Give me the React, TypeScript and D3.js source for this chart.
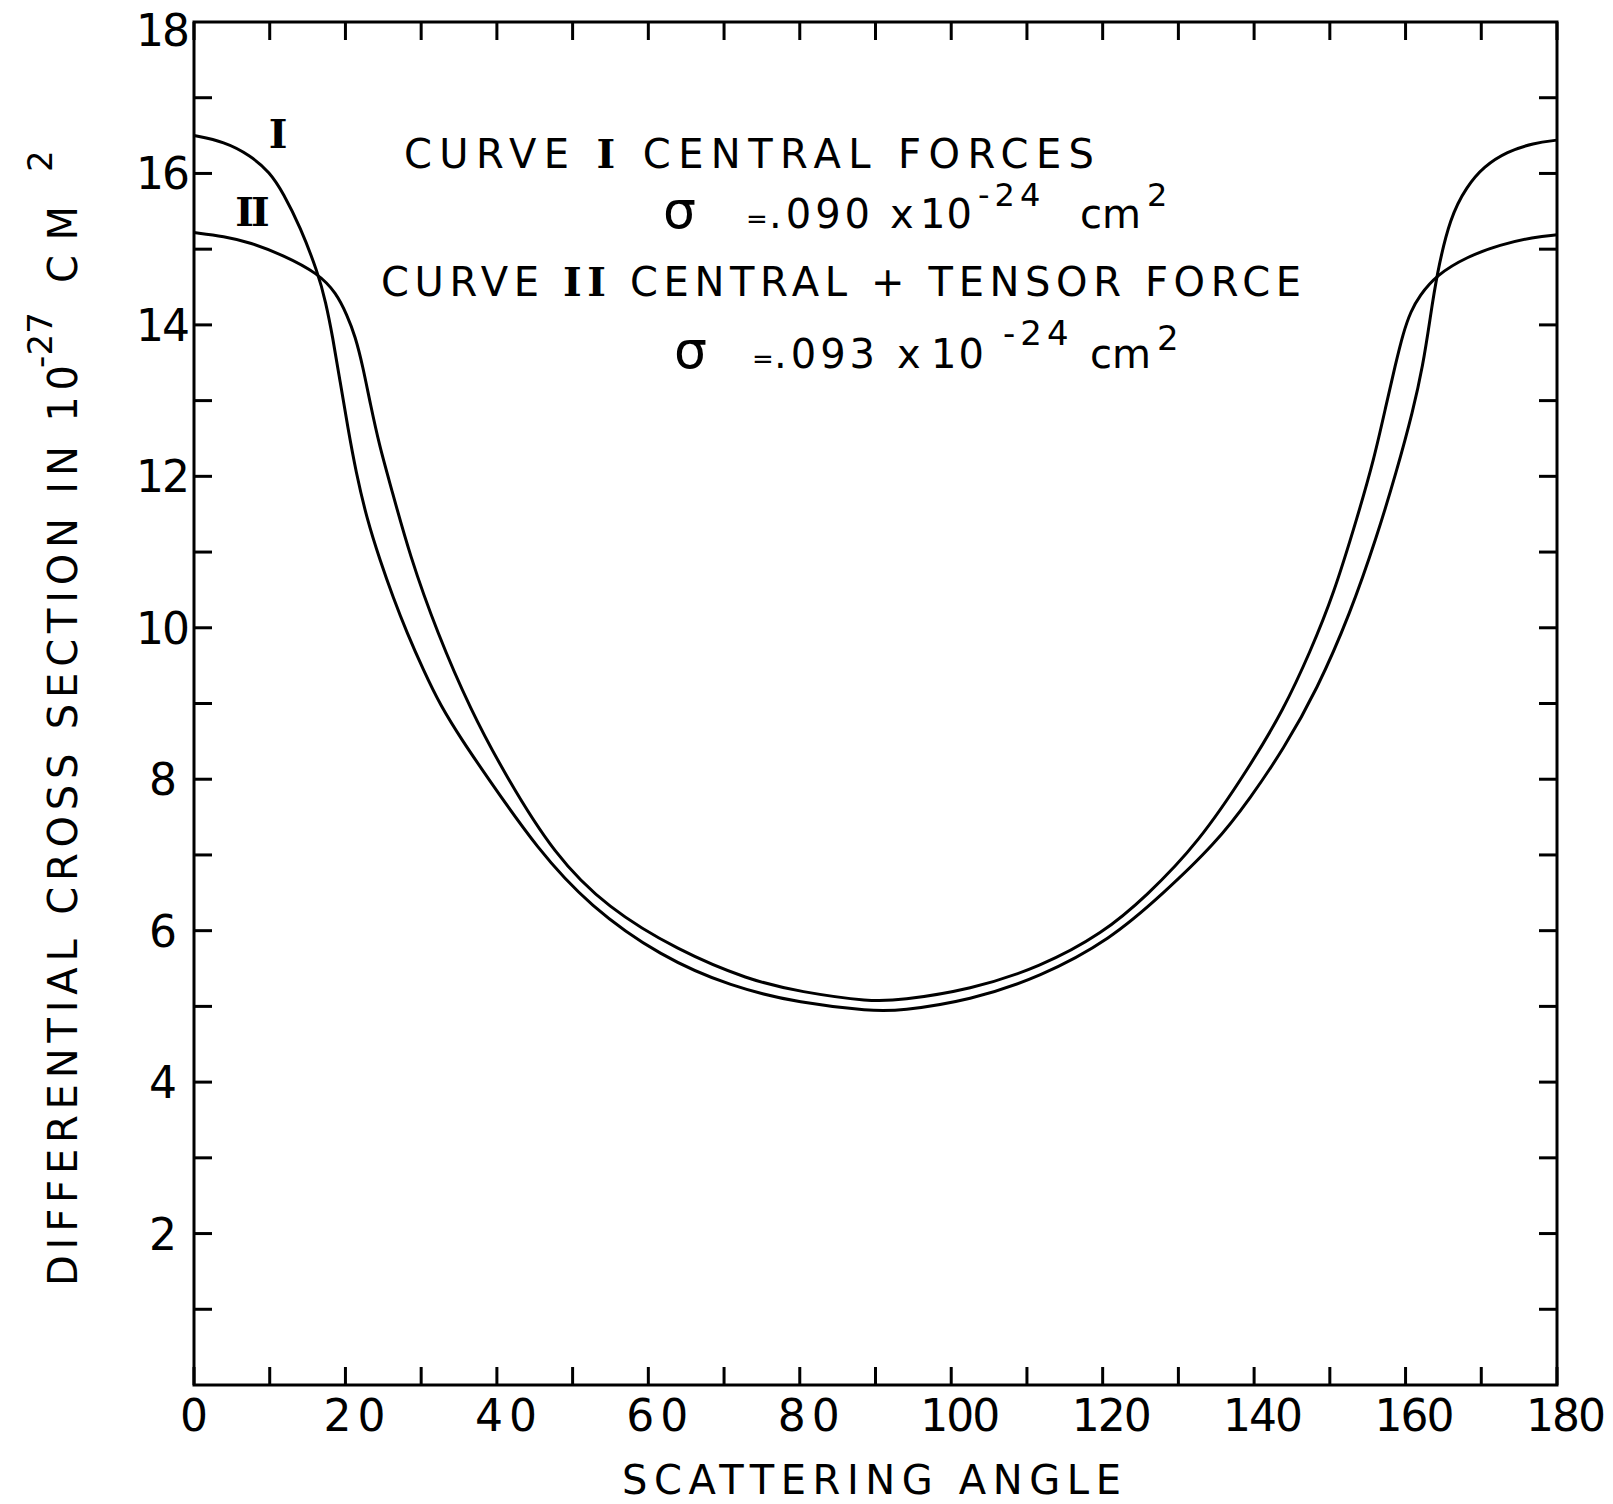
import React from 'react';
import * as d3 from 'd3';

// Curve I: central forces (scattering angle in degrees, cross section in 10^-27 cm^2)
const angleI = [0, 4, 7.4, 10, 11.8, 14, 16.4, 17.4, 18.3, 19.3, 20.3, 21.4, 22.8, 24.6, 26.3, 28.1, 30.3, 32.5, 35.5, 38.5, 45.4, 52.3, 61.6, 70.9, 80.1, 89.4, 93.2, 102.5, 111.8, 121.0, 128.0, 134.9, 139.5, 143.9, 148.3, 152.7, 156.2, 158.8, 161.0, 162.3, 163.2, 164.1, 165.9, 168.1, 170.3, 173.4, 176.9, 180];
const valueI = [16.50, 16.42, 16.24, 16.02, 15.74, 15.30, 14.68, 14.30, 13.85, 13.25, 12.65, 12.05, 11.45, 10.88, 10.40, 9.94, 9.44, 8.98, 8.50, 8.06, 7.07, 6.32, 5.66, 5.26, 5.04, 4.94, 4.94, 5.08, 5.39, 5.88, 6.49, 7.15, 7.75, 8.40, 9.18, 10.19, 11.20, 12.06, 12.87, 13.47, 14.05, 14.66, 15.43, 15.83, 16.09, 16.29, 16.40, 16.44];

// Curve II: central + tensor force
const angleII = [0, 4, 7.4, 11.8, 16.4, 18.8, 20.2, 21.3, 22.3, 23.3, 24.5, 25.9, 28.5, 32.1, 36.5, 41.2, 47.6, 54.6, 63.9, 73.2, 80.1, 89.4, 93.2, 102.5, 111.8, 120.1, 125.7, 132.6, 139.5, 143.9, 147.4, 150.5, 153.6, 155.8, 157.5, 158.6, 159.7, 160.7, 161.8, 164.1, 168.1, 172.5, 176.9, 180];
const valueII = [15.22, 15.17, 15.09, 14.92, 14.68, 14.42, 14.13, 13.85, 13.45, 12.95, 12.40, 11.90, 10.95, 9.94, 8.92, 8.04, 7.00, 6.30, 5.74, 5.35, 5.19, 5.06, 5.08, 5.22, 5.52, 5.97, 6.45, 7.15, 8.18, 8.92, 9.68, 10.44, 11.45, 12.21, 12.97, 13.45, 13.90, 14.18, 14.38, 14.66, 14.90, 15.06, 15.16, 15.19];

const xTickValues = [0, 10, 20, 30, 40, 50, 60, 70, 80, 90, 100, 110, 120, 130, 140, 150, 160, 170, 180];
const xLabelValues = [0, 20, 40, 60, 80, 100, 120, 140, 160, 180];
const yTickValues = [1, 2, 3, 4, 5, 6, 7, 8, 9, 10, 11, 12, 13, 14, 15, 16, 17];
const yLabelValues = [2, 4, 6, 8, 10, 12, 14, 16, 18];

const W = 1613;
const H = 1504;
const L = 194, R = 1557, T = 22, B = 1385;
const SANS = '"DejaVu Sans", "Liberation Sans", sans-serif';
const SERIF = '"DejaVu Serif", "Liberation Serif", serif';

export default function App() {
  const x = d3.scaleLinear().domain([0, 180]).range([L, R]);
  const y = d3.scaleLinear().domain([0, 18]).range([B, T]);
  const line = d3
    .line<[number, number]>()
    .x((d) => x(d[0]))
    .y((d) => y(d[1]))
    .curve(d3.curveBasis);
  const dI = line(angleI.map((a, i) => [a, valueI[i]] as [number, number])) || '';
  const dII = line(angleII.map((a, i) => [a, valueII[i]] as [number, number])) || '';
  const tl = 18;

  return (
    <svg
      width={W}
      height={H}
      viewBox={`0 0 ${W} ${H}`}
      style={{ position: 'absolute', left: 0, top: 0, background: '#fff' }}
    >
      <rect x={0} y={0} width={W} height={H} fill="#fff" />
      {/* frame */}
      <rect x={L} y={T} width={R - L} height={B - T} fill="none" stroke="#000" strokeWidth={3} />
      {/* x ticks, bottom and top, inward */}
      {xTickValues.map((v) => (
        <g key={'xt' + v}>
          <line x1={x(v)} x2={x(v)} y1={B} y2={B - tl} stroke="#000" strokeWidth={3} />
          <line x1={x(v)} x2={x(v)} y1={T} y2={T + tl} stroke="#000" strokeWidth={3} />
        </g>
      ))}
      {/* y ticks, left and right, inward */}
      {yTickValues.map((v) => (
        <g key={'yt' + v}>
          <line x1={L} x2={L + tl} y1={y(v)} y2={y(v)} stroke="#000" strokeWidth={3} />
          <line x1={R} x2={R - tl} y1={y(v)} y2={y(v)} stroke="#000" strokeWidth={3} />
        </g>
      ))}
      {/* x tick labels */}
      {xLabelValues.map((v) => {
        const n = String(v).length;
        return (
          <text
            key={'xl' + v}
            x={x(v) + (v === 0 ? 0 : 9)}
            y={1431}
            textAnchor="middle"
            fontFamily={SANS}
            fontSize={44}
            textLength={n === 1 ? undefined : n === 2 ? 62 : 80}
            lengthAdjust="spacing"
            fill="#000"
          >
            {v}
          </text>
        );
      })}
      {/* y tick labels */}
      {yLabelValues.map((v) => {
        const n = String(v).length;
        return (
          <text
            key={'yl' + v}
            x={163}
            y={Math.max(y(v) + 16, 46)}
            textAnchor="middle"
            fontFamily={SANS}
            fontSize={44}
            textLength={n === 1 ? undefined : 54}
            lengthAdjust="spacing"
            fill="#000"
          >
            {v}
          </text>
        );
      })}
      {/* axis titles */}
      <text
        x={622}
        y={1494}
        fontFamily={SANS}
        fontSize={40}
        textLength={499}
        lengthAdjust="spacing"
        fill="#000"
      >
        SCATTERING ANGLE
      </text>
      <g transform="translate(77,1286) rotate(-90)" fontFamily={SANS} fill="#000">
        <text x={0} y={0} fontSize={40} textLength={921} lengthAdjust="spacing">
          DIFFERENTIAL CROSS SECTION IN 10
        </text>
        <text x={918} y={-25} fontSize={34} textLength={56} lengthAdjust="spacing">
          -27
        </text>
        <text x={1003} y={0} fontSize={40} textLength={77} lengthAdjust="spacing">
          CM
        </text>
        <text x={1114} y={-25} fontSize={34}>
          2
        </text>
      </g>
      {/* curves */}
      <path d={dI} fill="none" stroke="#000" strokeWidth={3} strokeLinejoin="round" />
      <path d={dII} fill="none" stroke="#000" strokeWidth={3} strokeLinejoin="round" />
      {/* curve labels */}
      <text x={278} y={148} textAnchor="middle" fontFamily={SERIF} fontWeight="bold" fontSize={40} fill="#000">
        I
      </text>
      <text x={251} y={226} textAnchor="middle" fontFamily={SERIF} fontWeight="bold" fontSize={40} fill="#000" letterSpacing={-3}>
        II
      </text>
      {/* annotations */}
      <text x={404} y={168} fontFamily={SANS} fontSize={40} textLength={690} lengthAdjust="spacing" fill="#000">
        CURVE <tspan fontFamily={SERIF} fontWeight="bold">I</tspan> CENTRAL FORCES
      </text>
      <text y={228} fontFamily={SANS} fontSize={40} fill="#000">
        <tspan x={663} fontSize={52}>σ</tspan>
        <tspan x={746} fontSize={26}>=</tspan>
        <tspan x={769} letterSpacing={4}>.090</tspan>
        <tspan x={890}>x</tspan>
        <tspan x={920} letterSpacing={1}>10</tspan>
        <tspan x={978} y={206} fontSize={32} letterSpacing={5}>-24</tspan>
        <tspan x={1080} y={228}>cm</tspan>
        <tspan x={1147} y={206} fontSize={32}>2</tspan>
      </text>
      <text x={381} y={296} fontFamily={SANS} fontSize={40} textLength={920} lengthAdjust="spacing" fill="#000">
        CURVE <tspan fontFamily={SERIF} fontWeight="bold">II</tspan> CENTRAL + TENSOR FORCE
      </text>
      <text y={368} fontFamily={SANS} fontSize={40} fill="#000">
        <tspan x={674} fontSize={52}>σ</tspan>
        <tspan x={752} fontSize={26}>=</tspan>
        <tspan x={774} letterSpacing={4}>.093</tspan>
        <tspan x={897}>x</tspan>
        <tspan x={931} letterSpacing={2}>10</tspan>
        <tspan x={1003} y={345} fontSize={34} letterSpacing={5}>-24</tspan>
        <tspan x={1090} y={368}>cm</tspan>
        <tspan x={1157} y={350} fontSize={34}>2</tspan>
      </text>
    </svg>
  );
}
